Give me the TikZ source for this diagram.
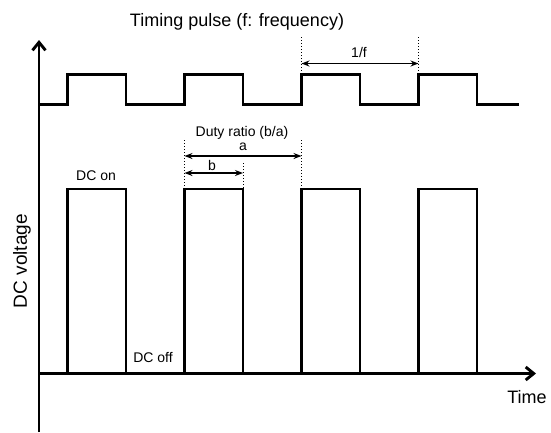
\documentclass[tikz,border=0pt]{standalone}
\usepackage{fontspec}
\setmainfont{Liberation Sans}
\usetikzlibrary{arrows.meta}

\tikzset{
    axis/.style={line width=2.9pt, -{Straight Barb[length=8pt, width=13pt, line width=2.9pt]}},
    wave/.style={line width=2.3pt, line join=miter},
    guide/.style={line width=1pt, dotted},
    dimline/.style={line width=1.4pt, {Stealth[length=8pt, width=6pt]}-{Stealth[length=8pt, width=6pt]}},
    lbl/.style={font=\fontsize{14}{16}\selectfont, inner sep=1pt}
}

\begin{document}
\begin{tikzpicture}[x=1pt, y=1pt, yscale=-1]

\useasboundingbox (0,0) rectangle (551,432);

\def\tzero{67.5}
\def\period{117}
\def\half{58.5}

% Axes
\coordinate (origin) at (39,373.5);
\coordinate (ytop) at (39,40);
\coordinate (ybot) at (39,432);
\coordinate (xend) at (536,373.5);
\draw[axis] (ybot) -- (ytop);
\draw[axis] (origin) -- (xend);

% Timing pulse
\draw[wave] (39,104.5)
    \foreach \k in {0,...,3} {
        -- (\tzero+\k*\period, 104.5) -- (\tzero+\k*\period, 74.5)
        -- (\tzero+\k*\period+\half, 74.5) -- (\tzero+\k*\period+\half, 104.5)
    } -- (519,104.5);

% DC voltage pulses
\foreach \k in {0,...,3} {
    \draw[wave] (\tzero+\k*\period, 373.5) -- ++(0,-184.5) -- ++(\half,0) -- ++(0,184.5);
}

% Guide lines
\coordinate (fA) at (\tzero+2*\period, 63.5);
\coordinate (fB) at (\tzero+3*\period, 63.5);
\draw[guide] (\tzero+2*\period, 37) -- (\tzero+2*\period, 74.5);
\draw[guide] (\tzero+3*\period, 37) -- (\tzero+3*\period, 74.5);

\coordinate (aA) at (\tzero+\period, 156);
\coordinate (aB) at (\tzero+2*\period, 156);
\coordinate (bA) at (\tzero+\period, 173);
\coordinate (bB) at (\tzero+\period+\half, 173);
\draw[guide] (\tzero+\period, 140) -- (\tzero+\period, 189);
\draw[guide] (\tzero+\period+\half, 163) -- (\tzero+\period+\half, 189);
\draw[guide] (\tzero+2*\period, 140) -- (\tzero+2*\period, 189);

% Dimension arrows
\draw[dimline] (fA) -- (fB);
\draw[dimline] (aA) -- (aB);
\draw[dimline] (bA) -- (bB);

% Labels
\node[font=\fontsize{18}{20}\selectfont] (title) at (237,22) {Timing pulse (f: frequency)};
\node[lbl] (lblinv) at (359,52) {1/f};
\node[lbl] (duty) at (242,133) {Duty ratio (b/a)};
\node[lbl] (lbla) at (243,147) {a};
\node[lbl] (lblb) at (212,165) {b};
\node[lbl] (dcon) at (96,176) {DC on};
\node[lbl] (dcoff) at (153,357) {DC off};
\node[font=\fontsize{18}{20}\selectfont] (timelbl) at (527,397) {Time};
\node[font=\fontsize{19}{21}\selectfont, rotate=90] (ylabel) at (22,261) {DC voltage};

\end{tikzpicture}
\end{document}
